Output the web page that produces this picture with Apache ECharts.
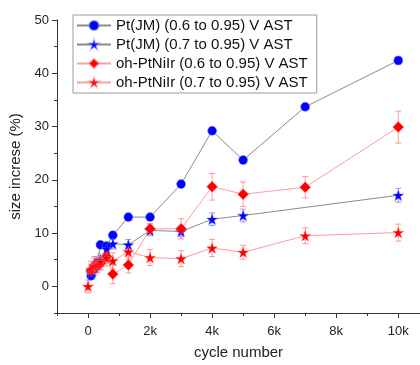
<!DOCTYPE html>
<html><head><meta charset="utf-8">
<script src="https://cdn.jsdelivr.net/npm/echarts@6/dist/echarts.min.js"></script>
<style>html,body{margin:0;padding:0;background:#fff}#c{width:420px;height:365px}</style>
</head><body><div id="c"></div>
<script>
const seriesNames = ['Pt(JM) (0.6 to 0.95) V AST','Pt(JM) (0.7 to 0.95) V AST','oh-PtNiIr (0.6 to 0.95) V AST','oh-PtNiIr (0.7 to 0.95) V AST'];

const ptA_x = [100,200,300,400,600,800,1300,2000,3000,4000,5000,7000,10000];
const ptA_y = [2.0,3.3,4.4,7.8,7.6,9.6,13.0,13.0,19.2,29.2,23.7,33.7,42.4];
const ptA_err = [0.6,0.6,0.6,0.5,0.5,0.6,0.5,0.5,0.6,0.6,0.6,0.6,0.7];

const ptB_x = [100,200,300,400,600,800,1300,2000,3000,4000,5000,10000];
const ptB_y = [2.5,3.6,4.3,4.9,7.0,8.0,7.8,10.5,10.3,12.6,13.3,17.1];
const ptB_err = [0.8,0.8,0.8,0.9,1.0,1.0,1.0,1.0,1.0,1.2,1.2,1.3];

const niA_x = [100,200,300,400,600,800,1300,2000,3000,4000,5000,7000,10000];
const niA_y = [3.0,3.8,4.0,4.3,5.6,2.3,4.0,10.8,10.8,18.7,17.3,18.6,29.9];
const niA_err = [1.2,1.5,1.3,1.2,1.2,1.8,1.5,1.0,1.9,2.5,2.3,2.0,3.0];

const niB_x = [0,100,200,300,400,600,800,1300,2000,3000,4000,5000,7000,10000];
const niB_y = [0,3.2,3.8,4.0,4.6,5.3,4.8,6.5,5.4,5.2,7.2,6.4,9.5,10.1];
const niB_err = [1.2,1.5,1.8,1.5,1.5,1.5,1.5,1.5,1.5,1.5,1.6,1.3,1.5,1.6];

const xLabelTicks = [0,2000,4000,6000,8000,10000];
const xMinorTicks = [-1000,1000,3000,5000,7000,9000];
const yLabelTicks = [0,10,20,30,40,50];
const yMinorTicks = [-5,5,15,25,35,45];

const FONT = '"Liberation Sans", Arial, sans-serif';
const STAR = 'path://M50,0 L61.8,35.1 L98.9,35.1 L69.1,56.7 L80.9,91.9 L50,70.2 L19.1,91.9 L30.9,56.7 L1.1,35.1 L38.2,35.1 Z';
const pts = (xs, ys) => xs.map((x, i) => [x, ys[i]]);
const errs = (xs, ys, es) => xs.map((x, i) => [x, ys[i] - es[i], ys[i] + es[i]]);

function errSeries(data, color) {
  return {
    type: 'custom', xAxisIndex: 0, yAxisIndex: 0, z: 2, silent: true,
    data: data,
    renderItem: function (params, api) {
      const x = api.value(0);
      const lo = api.coord([x, api.value(1)]);
      const hi = api.coord([x, api.value(2)]);
      const w = 3;
      const st = { stroke: color, lineWidth: 1 };
      return { type: 'group', children: [
        { type: 'line', shape: { x1: lo[0], y1: lo[1], x2: hi[0], y2: hi[1] }, style: st },
        { type: 'line', shape: { x1: lo[0] - w, y1: lo[1], x2: lo[0] + w, y2: lo[1] }, style: st },
        { type: 'line', shape: { x1: hi[0] - w, y1: hi[1], x2: hi[0] + w, y2: hi[1] }, style: st }
      ]};
    }
  };
}

function lineSeries(name, data, color, lineColor, symbol, size, halo) {
  return {
    name: name, type: 'line', xAxisIndex: 0, yAxisIndex: 0, z: 3,
    data: data, symbol: symbol, symbolSize: size, showSymbol: true,
    itemStyle: { color: color, borderWidth: 1, borderColor: halo },
    lineStyle: { color: lineColor, width: 1 },
    emphasis: { disabled: true }
  };
}

const blueErr = 'rgba(90,90,255,0.6)';
const redErr = 'rgba(255,90,90,0.6)';
const blueLine = '#8a8a8a';
const redLine = '#ff9c9c';

const chart = echarts.init(document.getElementById('c'), null, { renderer: 'canvas' });
chart.setOption({
  animation: false,
  backgroundColor: '#fff',
  textStyle: { fontFamily: FONT },
  grid: { left: 57, right: 0, top: 20, bottom: 45.5, containLabel: false },
  legend: {
    data: seriesNames,
    orient: 'vertical', left: 73, top: 15,
    borderColor: '#9a9a9a', borderWidth: 1, padding: [3, 9, 3, 3],
    itemGap: 4, itemWidth: 34, itemHeight: 12,
    textStyle: { fontFamily: FONT, fontSize: 15, color: '#111', lineHeight: 15 }
  },
  xAxis: [{
    type: 'value', min: -1000, max: 10700, position: 'bottom',
    name: 'cycle number', nameLocation: 'middle', nameGap: 32,
    nameTextStyle: { fontFamily: FONT, fontSize: 15, color: '#222' },
    axisLine: { show: true, onZero: false, lineStyle: { color: '#333', width: 1 } },
    axisTick: { show: true, customValues: xLabelTicks, length: 5, lineStyle: { color: '#333' } },
    axisLabel: { customValues: xLabelTicks, fontSize: 13, color: '#222', margin: 12,
      formatter: v => v === 0 ? '0' : (v / 1000) + 'k' },
    splitLine: { show: false }
  }, {
    type: 'value', min: -1000, max: 10700, position: 'bottom',
    axisLine: { show: false, onZero: false },
    axisTick: { show: true, customValues: xMinorTicks, length: 3, lineStyle: { color: '#333' } },
    axisLabel: { show: false }, splitLine: { show: false }
  }],
  yAxis: [{
    type: 'value', min: -5, max: 50, position: 'left',
    name: 'size increse (%)', nameLocation: 'middle', nameGap: 33,
    nameTextStyle: { fontFamily: FONT, fontSize: 15, color: '#222' },
    axisLine: { show: true, onZero: false, lineStyle: { color: '#333', width: 1 } },
    axisTick: { show: true, customValues: yLabelTicks, length: 5, lineStyle: { color: '#333' } },
    axisLabel: { customValues: yLabelTicks, fontSize: 13, color: '#222', margin: 8 },
    splitLine: { show: false }
  }, {
    type: 'value', min: -5, max: 50, position: 'left',
    axisLine: { show: false, onZero: false },
    axisTick: { show: true, customValues: yMinorTicks, length: 3, lineStyle: { color: '#333' } },
    axisLabel: { show: false }, splitLine: { show: false }
  }],
  series: [
    errSeries(errs(ptA_x, ptA_y, ptA_err), blueErr),
    errSeries(errs(ptB_x, ptB_y, ptB_err), blueErr),
    errSeries(errs(niA_x, niA_y, niA_err), redErr),
    errSeries(errs(niB_x, niB_y, niB_err), redErr),
    lineSeries(seriesNames[0], pts(ptA_x, ptA_y), '#0000ff', blueLine, 'circle', 9, 'rgba(120,120,255,0.5)'),
    lineSeries(seriesNames[1], pts(ptB_x, ptB_y), '#0000ff', blueLine, STAR, 11, 'rgba(120,120,255,0.4)'),
    lineSeries(seriesNames[2], pts(niA_x, niA_y), '#ff0000', redLine, 'diamond', 11, 'rgba(255,120,120,0.4)'),
    lineSeries(seriesNames[3], pts(niB_x, niB_y), '#ff0000', redLine, STAR, 11, 'rgba(255,120,120,0.4)')
  ]
});
</script>
</body></html>
